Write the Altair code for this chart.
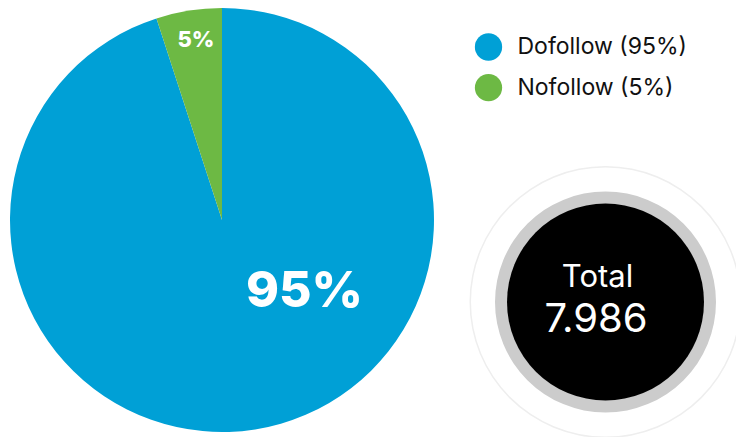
import altair as alt
import pandas as pd

categories = ["Dofollow", "Nofollow"]
percent = [95, 5]
legend_labels = ["Dofollow (95%)", "Nofollow (5%)"]
slice_labels = ["95%", "5%"]
colors = ["#00A0D6", "#6DB944"]
total_title = "Total"
total_value = "7.986"

pie_df = pd.DataFrame({
    "cat": legend_labels,
    "pct": percent,
    "ord": list(range(len(categories))),
    "lab": slice_labels,
})
one = pd.DataFrame({"k": [0]})

CX, CY, R = 222, 220, 212
TX, TY = 605.5, 302

pie = alt.Chart(pie_df).mark_arc(outerRadius=R, stroke=None).encode(
    theta=alt.Theta("pct:Q", stack=True),
    order=alt.Order("ord:Q"),
    color=alt.Color(
        "cat:N",
        scale=alt.Scale(domain=legend_labels, range=colors),
        sort=legend_labels,
        legend=alt.Legend(
            title=None, orient="none", legendX=474.5, legendY=33,
            symbolType="circle", symbolSize=745, symbolStrokeWidth=0,
            labelFontSize=23, labelFont="Inter", labelColor="#111111",
            labelOffset=15, rowPadding=12.7, labelLimit=300,
        ),
    ),
    x=alt.value(CX), y=alt.value(CY),
)

big_lab = alt.Chart(pie_df).transform_filter(alt.datum.ord == 0).mark_text(
    font="Inter", fontSize=50, fontWeight=800, color="white", baseline="alphabetic", align="center"
).encode(text="lab:N", x=alt.value(304.5), y=alt.value(307))

small_lab = alt.Chart(pie_df).transform_filter(alt.datum.ord == 1).mark_text(
    font="Inter", fontSize=22, fontWeight=800, color="white", baseline="alphabetic", align="center"
).encode(text="lab:N", x=alt.value(196), y=alt.value(46.5))

outer_ring = alt.Chart(one).mark_arc(
    innerRadius=134.5, outerRadius=136, theta=0, theta2=6.2832, color="#EEEEEE"
).encode(x=alt.value(TX), y=alt.value(TY))

gray_ring = alt.Chart(one).mark_arc(
    innerRadius=98, outerRadius=110.5, theta=0, theta2=6.2832, color="#CCCCCC"
).encode(x=alt.value(TX), y=alt.value(TY))

black_disc = alt.Chart(one).mark_arc(
    outerRadius=98.5, theta=0, theta2=6.2832, color="#000000"
).encode(x=alt.value(TX), y=alt.value(TY))

t_title = alt.Chart(one).transform_calculate(t=f"'{total_title}'").mark_text(
    font="Inter", fontSize=31, color="white", baseline="alphabetic", align="center"
).encode(text="t:N", x=alt.value(597.5), y=alt.value(287))

t_value = alt.Chart(one).transform_calculate(t=f"'{total_value}'").mark_text(
    font="Inter", fontSize=40, color="white", baseline="alphabetic", align="center"
).encode(text="t:N", x=alt.value(596), y=alt.value(332))

chart = alt.layer(
    pie, big_lab, small_lab, outer_ring, gray_ring, black_disc, t_title, t_value
).properties(
    width=736, height=437, padding=0, autosize=alt.AutoSizeParams(type="none"),
    background="white",
).configure_view(stroke=None)

chart.save("out.html", embed_options={"renderer": "svg", "actions": False})
